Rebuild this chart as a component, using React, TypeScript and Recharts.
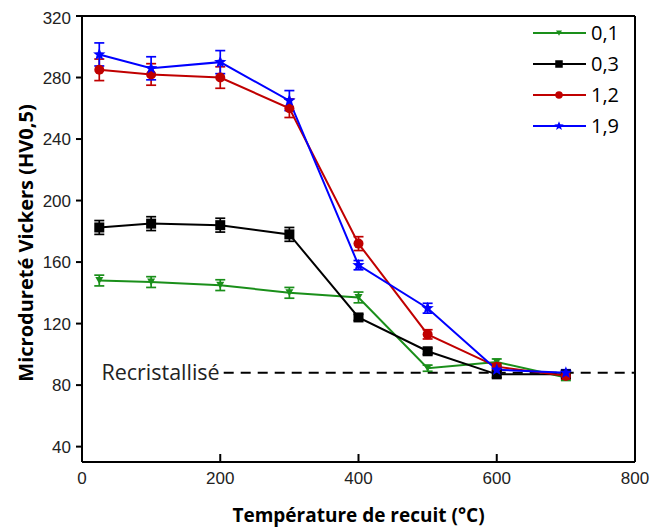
import React from 'react';
import {
  ComposedChart,
  Line,
  XAxis,
  YAxis,
  ErrorBar,
  ReferenceLine,
} from 'recharts';

if (typeof document !== 'undefined') {
  document.body.style.margin = '0';
  document.body.style.overflow = 'hidden';
}

// ---- Data ----
const temps = [25, 100, 200, 300, 400, 500, 600, 700];

const hv01 = [148, 147, 145, 140, 137, 91, 95, 85];
const err01 = [3.5, 3.5, 3.5, 3.5, 3.5, 2, 2, 2];

const hv03 = [182.5, 185, 184, 178, 124, 102, 87, 87];
const err03 = [4.5, 4.5, 4.5, 4.5, 2, 2, 2, 2];

const hv12 = [285, 282, 280, 260, 172, 113, 92, 86];
const err12 = [7, 7, 7, 6, 4.5, 3, 2, 2];

const hv19 = [295, 286, 290, 265, 158, 130, 90, 88];
const err19 = [7.5, 7.5, 7.5, 6.5, 3, 3.2, 2, 2];

const seriesNames = ['0,1', '0,3', '1,2', '1,9'];
const seriesColors = ['#1a8f1a', '#000000', '#c00000', '#0000ff'];
const seriesShapes = ['triangleDown', 'square', 'circle', 'star'];

const xTicks = [0, 200, 400, 600, 800];
const yTicks = [40, 80, 120, 160, 200, 240, 280, 320];
const recrystValue = 88;
const recrystLabel = 'Recristallisé';
const xTitle = 'Température de recuit (°C)';
const yTitle = 'Microdureté Vickers (HV0,5)';

const build = (vals: number[], errs: number[]) =>
  temps.map((t, i) => ({ t, v: vals[i], e: errs[i] }));

const seriesData = [
  build(hv01, err01),
  build(hv03, err03),
  build(hv12, err12),
  build(hv19, err19),
];

// ---- Markers ----
function starPath(cx: number, cy: number, R: number, r: number) {
  let d = '';
  for (let i = 0; i < 10; i++) {
    const ang = -Math.PI / 2 + (i * Math.PI) / 5;
    const rad = i % 2 === 0 ? R : r;
    const x = cx + rad * Math.cos(ang);
    const y = cy + rad * Math.sin(ang);
    d += (i === 0 ? 'M' : 'L') + x.toFixed(2) + ',' + y.toFixed(2);
  }
  return d + 'Z';
}

function Marker({ shape, cx, cy, color, scale = 1 }: any) {
  if (cx == null || cy == null) return null;
  if (shape === 'square') {
    const s = 10 * scale;
    return <rect x={cx - s / 2} y={cy - s / 2} width={s} height={s} fill={color} />;
  }
  if (shape === 'circle') {
    return <circle cx={cx} cy={cy} r={5 * scale} fill={color} />;
  }
  if (shape === 'star') {
    return <path d={starPath(cx, cy, 6.5 * scale, 2.8 * scale)} fill={color} />;
  }
  // triangle down
  const w = 4 * scale;
  const h = 3.5 * scale;
  return (
    <path
      d={`M${cx - w},${cy - h} L${cx + w},${cy - h} L${cx},${cy + h} Z`}
      fill={color}
    />
  );
}

const makeDot = (shape: string, color: string) => (props: any) => (
  <Marker key={`${shape}-${props.index}`} shape={shape} cx={props.cx} cy={props.cy} color={color} />
);

// ---- Legend (overlay) ----
function LegendBox() {
  return (
    <svg
      width={110}
      height={130}
      style={{ position: 'absolute', left: 525, top: 8, overflow: 'visible' }}
    >
      {seriesNames.map((name, i) => {
        const y = 17 + 31 * i;
        return (
          <g key={name}>
            <line x1={0} x2={53} y1={y} y2={y} stroke={seriesColors[i]} strokeWidth={2} />
            <Marker shape={seriesShapes[i]} cx={26} cy={y} color={seriesColors[i]} scale={0.75} />
            <text
              x={58}
              y={y}
              dy="0.35em"
              fontFamily="'Open Sans', sans-serif"
              fontSize={20}
              fill="#000"
            >
              {name}
            </text>
          </g>
        );
      })}
    </svg>
  );
}

const tickFont = { fontFamily: "'Liberation Sans', Arial, sans-serif", fontSize: 17, fill: '#222' };

export default function App() {
  return (
    <div style={{ padding: '8px 0 0 8px', width: 643, height: 522 }}>
      <div style={{ position: 'relative', width: 643, height: 522 }}>
        <ComposedChart
          width={643}
          height={522}
          margin={{ top: 8, right: 16, bottom: 0, left: 0 }}
          style={{ background: '#fff' }}
        >
          <XAxis
            type="number"
            dataKey="t"
            domain={[0, 800]}
            ticks={xTicks}
            allowDataOverflow
            height={68}
            axisLine={{ stroke: '#000', strokeWidth: 2 }}
            tickLine={{ stroke: '#000', strokeWidth: 2 }}
            tickSize={-8}
            tickMargin={18}
            tick={tickFont}
            label={{
              value: xTitle,
              position: 'center',
              dy: 19,
              style: {
                fontFamily: "'Open Sans', sans-serif",
                fontWeight: 700,
                fontSize: 19,
                fill: '#000',
              },
            }}
          />
          <YAxis
            type="number"
            domain={[30, 320]}
            ticks={yTicks}
            allowDataOverflow
            width={74}
            axisLine={{ stroke: '#000', strokeWidth: 2 }}
            tickLine={{ stroke: '#000', strokeWidth: 2 }}
            tickSize={6}
            tickMargin={5}
            tick={tickFont}
            label={{
              value: yTitle,
              angle: -90,
              position: 'center',
              dx: -19,
              dy: 4,
              style: {
                fontFamily: "'Open Sans', sans-serif",
                fontWeight: 700,
                fontSize: 20,
                fill: '#000',
                textAnchor: 'middle',
              },
            }}
          />
          <ReferenceLine y={320} stroke="#000" strokeWidth={2} />
          <ReferenceLine x={800} stroke="#000" strokeWidth={2} />
          <ReferenceLine
            segment={[
              { x: 205, y: recrystValue },
              { x: 800, y: recrystValue },
            ]}
            stroke="#000"
            strokeWidth={2}
            strokeDasharray="10 7"
            label={{
              value: recrystLabel,
              position: 'left',
              offset: 4,
              style: { fontFamily: "'Open Sans', sans-serif", fontSize: 21.5, fill: '#222' },
            }}
          />
          {seriesData.map((data, i) => (
            <Line
              key={seriesNames[i]}
              data={data}
              dataKey="v"
              name={seriesNames[i]}
              stroke={seriesColors[i]}
              strokeWidth={2}
              dot={makeDot(seriesShapes[i], seriesColors[i])}
              activeDot={false}
              isAnimationActive={false}
            >
              <ErrorBar
                dataKey="e"
                direction="y"
                width={5}
                stroke={seriesColors[i]}
                strokeWidth={1.7}
                isAnimationActive={false}
              />
            </Line>
          ))}
        </ComposedChart>
        <LegendBox />
      </div>
    </div>
  );
}
